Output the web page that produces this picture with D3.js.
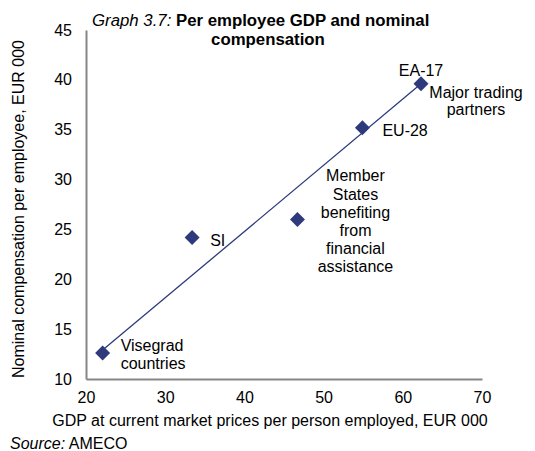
<!DOCTYPE html>
<html>
<head>
<meta charset="utf-8">
<script src="https://cdn.jsdelivr.net/npm/d3@7"></script>
<style>
  body { margin: 0; background: #fff; }
  text { font-family: "Liberation Sans", Arial, sans-serif; fill: #000; }
</style>
</head>
<body>
<div id="chart"></div>
<script>
// data
const groups = ['Visegrad', 'SI', 'Programme', 'EU-28', 'EA-17'];
const gdpPerEmployee = [22.1, 33.4, 46.7, 54.9, 62.3];
const compPerEmployee = [12.6, 24.2, 26.0, 35.2, 39.6];
const pointLabels = [
  ['Visegrad', 'countries'],
  ['SI'],
  ['Member', 'States', 'benefiting', 'from', 'financial', 'assistance'],
  ['EU-28'],
  ['EA-17']
];
const extraLabel = ['Major trading', 'partners'];
// trend line end points (x, y)
const trendX = [22.1, 62.3];
const trendY = [12.9, 39.6];
const xTicks = [20, 30, 40, 50, 60, 70];
const yTicks = [10, 15, 20, 25, 30, 35, 40, 45];

const W = 535, H = 451;
const M = { left: 86, right: 53, top: 30, bottom: 72 };
const NAVY = '#2e3a7c', GREY = '#868686';
const FS = 16;

const svg = d3.select('#chart').append('svg').attr('width', W).attr('height', H);

const x = d3.scaleLinear().domain([20, 70]).range([M.left, W - M.right]);
const y = d3.scaleLinear().domain([10, 45]).range([H - M.bottom, M.top]);

// axes
const xAxis = svg.append('g').attr('transform', `translate(0,${y(10)})`)
  .call(d3.axisBottom(x).tickValues(xTicks).tickSize(0).tickPadding(13).tickFormat(d3.format('d')));
const yAxis = svg.append('g').attr('transform', `translate(${x(20)},0)`)
  .call(d3.axisLeft(y).tickValues(yTicks).tickSize(0).tickPadding(14).tickFormat(d3.format('d')));
[xAxis, yAxis].forEach(a => {
  a.select('.domain').attr('stroke', GREY).attr('stroke-width', 2);
  a.selectAll('text').attr('font-size', FS).attr('fill', '#000')
    .style('font-family', '"Liberation Sans", Arial, sans-serif');
});

// trend line
svg.append('line')
  .attr('x1', x(trendX[0])).attr('y1', y(trendY[0]))
  .attr('x2', x(trendX[1])).attr('y2', y(trendY[1]))
  .attr('stroke', NAVY).attr('stroke-width', 1.3);

// diamonds
svg.append('g').selectAll('path')
  .data(groups).join('path')
  .attr('d', d3.symbol(d3.symbolSquare, 112))
  .attr('transform', (d, i) => `translate(${x(gdpPerEmployee[i])},${y(compPerEmployee[i])}) rotate(45)`)
  .attr('fill', NAVY);

// point labels
const offsets = [
  { dx: 18, dy: -2, anchor: 'start', lh: 18 },
  { dx: 18, dy: 9, anchor: 'start', lh: 18 },
  { dx: 58, dy: -38, anchor: 'middle', lh: 18.2 },
  { dx: 20, dy: 8, anchor: 'start', lh: 18 },
  { dx: 0, dy: -8, anchor: 'middle', lh: 18 }
];
const addLines = (px, py, lines, o) => {
  const t = svg.append('text').attr('font-size', FS).attr('text-anchor', o.anchor);
  lines.forEach((s, k) => {
    t.append('tspan').attr('x', px + o.dx).attr('y', py + o.dy + k * o.lh).text(s);
  });
};
groups.forEach((g, i) => {
  addLines(x(gdpPerEmployee[i]), y(compPerEmployee[i]), pointLabels[i], offsets[i]);
});
addLines(x(gdpPerEmployee[4]), y(compPerEmployee[4]), extraLabel,
  { dx: 55, dy: 14, anchor: 'middle', lh: 17.5 });

// title
const title = svg.append('text').attr('font-size', 16.8).attr('x', 92).attr('y', 26);
title.append('tspan').attr('font-style', 'italic').text('Graph 3.7: ');
title.append('tspan').attr('font-weight', 'bold').text('Per employee GDP and nominal');
svg.append('text').attr('font-size', 16.8).attr('font-weight', 'bold')
  .attr('text-anchor', 'middle').attr('x', 268).attr('y', 45).text('compensation');

// axis titles
svg.append('text').attr('font-size', FS).attr('text-anchor', 'middle')
  .attr('x', 270).attr('y', 426)
  .text('GDP at current market prices per person employed, EUR 000');
svg.append('text').attr('font-size', FS).attr('text-anchor', 'middle')
  .attr('transform', `translate(24,209) rotate(-90)`)
  .text('Nominal compensation per employee, EUR 000');

// source
const src = svg.append('text').attr('font-size', FS).attr('x', 10).attr('y', 449);
src.append('tspan').attr('font-style', 'italic').text('Source:');
src.append('tspan').text(' AMECO');
</script>
</body>
</html>
